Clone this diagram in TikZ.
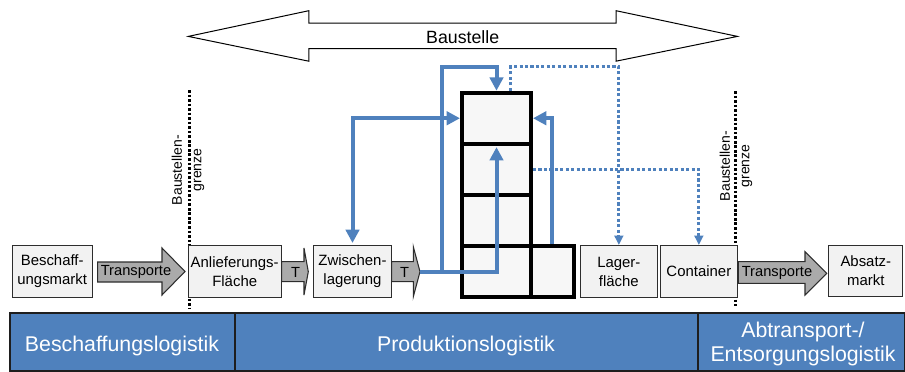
\documentclass[tikz,border=0pt]{standalone}
\usepackage{fontspec}
\setmainfont{Liberation Sans}
\usetikzlibrary{arrows.meta,calc}
\definecolor{bblue}{RGB}{79,129,189}
\definecolor{boxfill}{RGB}{242,242,242}
\definecolor{cellfill}{RGB}{247,247,247}
\definecolor{arrfill}{RGB}{170,170,170}
\definecolor{edgegray}{RGB}{45,45,45}
\definecolor{barline}{RGB}{30,30,30}
\begin{document}
\begin{tikzpicture}[x=0.75pt,y=-0.75pt,
  box/.style={draw=edgegray,line width=0.8pt,fill=boxfill,inner sep=0pt,minimum height=39pt,align=center,font=\fontsize{11.2}{14.25}\selectfont},
  cell/.style={draw=black,line width=3pt,fill=cellfill,inner sep=0pt,minimum width=51.75pt,minimum height=38.3pt},
  tarrow/.style={draw=edgegray,line width=0.8pt,fill=arrfill},
  tlabel/.style={inner sep=0pt,font=\fontsize{11}{13}\selectfont},
  bl/.style={draw=bblue,line width=3pt},
  bltip/.style={-{Triangle[width=10pt,length=10pt]}},
  bd/.style={draw=bblue,line width=2.4pt,dash pattern=on 2.3pt off 1.8pt},
  bdtip/.style={-{Triangle[width=6.5pt,length=7pt]}},
  grenzline/.style={draw=black,line width=2.4pt,dash pattern=on 2pt off 1.4pt},
  grenztext/.style={rotate=90,align=center,inner sep=0pt,font=\fontsize{10.5}{14.5}\selectfont},
  barcell/.style={draw=barline,line width=1pt,fill=bblue},
  bartext/.style={text=white,align=center,inner sep=0pt,font=\fontsize{16}{18}\selectfont}
]
\useasboundingbox (0,0) rectangle (905,371);

% Baustelle double arrow
\draw[line width=0.75pt,fill=white] (188.3,36.4) -- (308.8,10.7) -- (308.8,23) -- (616,23) -- (616,10.7) -- (737.4,36.4) -- (616,61.2) -- (616,48.6) -- (308.8,48.6) -- (308.8,61.2) -- cycle;
\node[inner sep=0pt,font=\fontsize{13.3}{15}\selectfont] (baustelle) at (462.7,37) {Baustelle};

% Baustellengrenze lines
\coordinate (g1a) at (189.3,90);
\coordinate (g1b) at (189.3,308);
\coordinate (g2a) at (735.7,91);
\coordinate (g2b) at (735.7,306);
\draw[grenzline] (g1a) -- (g1b);
\draw[grenzline] (g2a) -- (g2b);
\node[grenztext] (gl) at (188,170) {Baustellen-\\grenze};
\node[grenztext] (gr) at (736,166) {Baustellen-\\grenze};

% grid cells
\node[cell] (c1) at (496.5,118.25) {};
\node[cell] (c2) at (496.5,169.35) {};
\node[cell] (c3) at (496.5,220.45) {};
\node[cell] (c4) at (496.5,271.55) {};
\node[cell,minimum width=32pt] (c5) at (552.35,271.55) {};

% boxes
\node[box,minimum width=60pt] (markt) at (52.2,271.5) {Beschaff-\\ungsmarkt};
\node[box,minimum width=69.75pt] (anl) at (234.7,271.5) {Anlieferungs-\\Fläche};
\node[box,minimum width=58.5pt] (zw) at (352.5,271.5) {Zwischen-\\lagerung};
\node[box,minimum width=57.5pt] (lager) at (618.85,271.5) {Lager-\\fläche};
\node[box,minimum width=57.5pt] (cont) at (698.85,271.5) {Container};
\node[box,minimum width=55.5pt,minimum height=38.5pt] (absatz) at (865.8,270.9) {Absatz-\\markt};

% transport arrows
\draw[tarrow] (97.7,262) -- (162,262) -- (162,248) -- (185,271.5) -- (162,295) -- (162,282) -- (97.7,282) -- cycle;
\node[tlabel] (tr1) at (136,272) {Transporte};
\draw[tarrow] (281.7,261.7) -- (304,261.7) -- (304,248) -- (308.3,271.7) -- (304,295) -- (304,281.7) -- (281.7,281.7) -- cycle;
\node[tlabel] (t1) at (295.7,272) {T};
\draw[tarrow] (391.7,261.7) -- (413.3,261.7) -- (413.3,246.7) -- (420,271.7) -- (413.3,296.7) -- (413.3,281.7) -- (391.7,281.7) -- cycle;
\node[tlabel] (t2) at (404.5,272) {T};
\draw[tarrow] (738.3,261.7) -- (805,261.7) -- (805,251.7) -- (826.7,273.3) -- (805,295) -- (805,283.3) -- (738.3,283.3) -- cycle;
\node[tlabel] (tr2) at (777,273) {Transporte};

% blue solid connectors
\coordinate (t2tip) at (420,271.7);
\coordinate (j1) at (441.7,271.7);
\draw[bl,bltip] (t2tip) -| ([yshift=-1pt]c1.south);
\draw[bl,bltip] (j1) -- (441.7,66.7) -| (c1.north);
\draw[bl,{Triangle[width=10pt,length=10pt]}-{Triangle[width=10pt,length=10pt]}] (c1.west) -| ([yshift=1.5pt]zw.north);
\draw[bl,bltip] (c5.north) |- (c1.east);

% blue dotted connectors
\draw[bd,bdtip] ([xshift=10.65pt]c1.north) -- ++(0,-24) -| (lager.north);
\draw[bd,bdtip] (c2.east) -| (cont.north);

% bottom bar
\draw[barcell] (10,313) rectangle (235,371);
\draw[barcell] (235,313) rectangle (698,371);
\draw[barcell] (698,313) rectangle (904.5,371);
\node[bartext,anchor=base] (bl1) at (122,351) {Beschaffungslogistik};
\node[bartext,anchor=base] (bl2) at (466,351) {Produktionslogistik};
\node[bartext] (bl3) at (803,344) {Abtransport-/\\Entsorgungslogistik};
\end{tikzpicture}
\end{document}
